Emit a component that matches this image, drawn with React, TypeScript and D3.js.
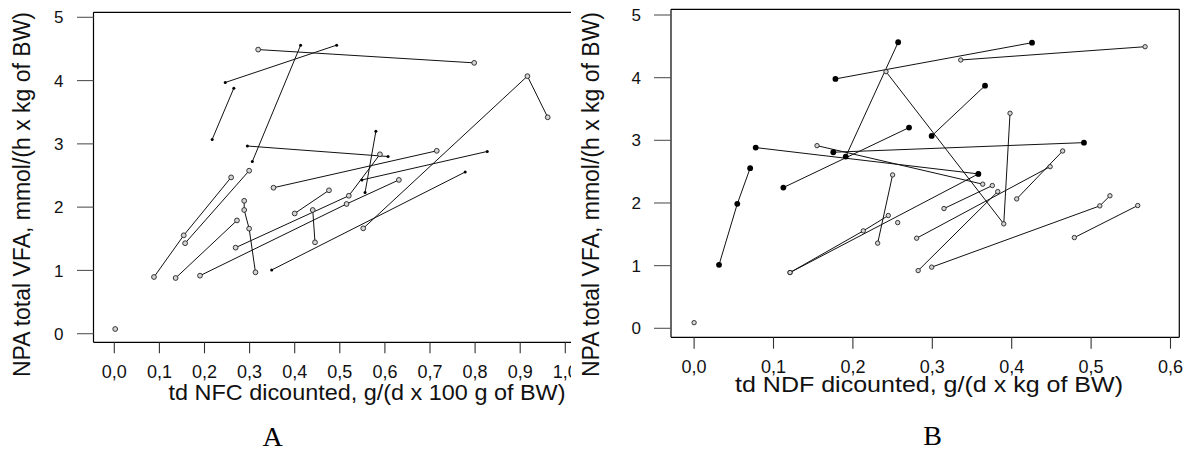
import React from "react";
import * as d3 from "d3";

// ---------- Panel A: td NFC discounted ----------
const aTicksX = [0, 0.1, 0.2, 0.3, 0.4, 0.5, 0.6, 0.7, 0.8, 0.9, 1.0];
const yTicks = [0, 1, 2, 3, 4, 5];

const aOpen1 = [[0.319, 4.49], [0.798, 4.28]];
const aOpen2 = [[0.088, 0.896], [0.154, 1.555], [0.259, 2.47]];
const aOpen3 = [[0.157, 1.43], [0.299, 2.576]];
const aOpen4 = [[0.136, 0.88], [0.272, 1.79]];
const aOpen5 = [[0.288, 2.1], [0.288, 1.955], [0.299, 1.66], [0.313, 0.97]];
const aOpen6 = [[0.353, 2.307], [0.715, 2.89]];
const aOpen7 = [[0.4, 1.9], [0.476, 2.266]];
const aOpen8 = [[0.44, 1.955], [0.445, 1.444]];
const aOpen9 = [[0.19, 0.917], [0.515, 2.05], [0.631, 2.43]];
const aOpen10 = [[0.269, 1.36], [0.52, 2.18], [0.589, 2.835]];
const aOpen11 = [[0.552, 1.665], [0.916, 4.07], [0.961, 3.42]];
const aOpen12 = [[0.002, 0.074]];

const aDot1 = [[0.246, 3.97], [0.493, 4.56]];
const aDot2 = [[0.217, 3.07], [0.265, 3.88]];
const aDot3 = [[0.413, 4.557], [0.306, 2.72]];
const aDot4 = [[0.295, 2.966], [0.607, 2.8]];
const aDot5 = [[0.58, 3.2], [0.556, 2.23]];
const aDot6 = [[0.549, 2.43], [0.827, 2.88]];
const aDot7 = [[0.349, 1.007], [0.778, 2.555]];

const aOpenSeries = [aOpen1, aOpen2, aOpen3, aOpen4, aOpen5, aOpen6, aOpen7, aOpen8, aOpen9, aOpen10, aOpen11, aOpen12];
const aDotSeries = [aDot1, aDot2, aDot3, aDot4, aDot5, aDot6, aDot7];

// ---------- Panel B: td NDF discounted ----------
const bTicksX = [0, 0.1, 0.2, 0.3, 0.4, 0.5, 0.6];

const bDot1 = [[0.0314, 1.013], [0.0544, 1.986], [0.0706, 2.555]];
const bDot2 = [[0.178, 3.98], [0.4256, 4.558]];
const bDot3 = [[0.257, 4.565], [0.191, 2.74]];
const bDot4 = [[0.1124, 2.246], [0.2707, 3.203]];
const bDot5 = [[0.2992, 3.07], [0.3664, 3.872]];
const bDot6 = [[0.1753, 2.81], [0.491, 2.963]];
const bDot7 = [[0.0776, 2.884], [0.358, 2.464]];

const bOpen1 = [[0.3358, 4.282], [0.568, 4.494]];
const bOpen2 = [[0.2417, 4.096], [0.39, 1.667], [0.3979, 3.432]];
const bOpen3 = [[0.1548, 2.915], [0.3635, 2.3]];
const bOpen4 = [[0.1208, 0.89], [0.2131, 1.555], [0.2446, 1.8]];
const bOpen5 = [[0.1208, 0.89], [0.358, 2.464]];
const bOpen6 = [[0.2312, 1.359], [0.25, 2.448]];
const bOpen7 = [[0.3147, 1.911], [0.3756, 2.278]];
const bOpen8 = [[0.2803, 1.438], [0.4484, 2.58]];
const bOpen9 = [[0.2822, 0.921], [0.3824, 2.182]];
const bOpen10 = [[0.4063, 2.065], [0.4642, 2.83]];
const bOpen11 = [[0.2992, 0.976], [0.511, 1.954], [0.5237, 2.115]];
const bOpen12 = [[0.4789, 1.448], [0.5587, 1.959]];
const bOpen13 = [[0.2564, 1.687]];
const bOpen14 = [[0.0, 0.09]];

const bOpenSeries = [bOpen1, bOpen2, bOpen3, bOpen4, bOpen5, bOpen6, bOpen7, bOpen8, bOpen9, bOpen10, bOpen11, bOpen12, bOpen13, bOpen14];
const bDotSeries = [bDot1, bDot2, bDot3, bDot4, bDot5, bDot6, bDot7];

const SANS = "'Liberation Sans', Arial, Helvetica, sans-serif";
const SERIF = "'Liberation Serif', 'Times New Roman', serif";
const fmt = (v: number) => d3.format(".1f")(v).replace(".", ",");

type PanelProps = {
  box: { l: number; t: number; r: number; b: number };
  xRange: [number, number];
  xDomain: [number, number];
  yRange: [number, number];
  xTicks: number[];
  openSeries: number[][][];
  dotSeries: number[][][];
  openR: number;
  dotR: number;
  xLabelY: number;
  yLabelX: number;
  yTickX0: number;
  xTickLen: number;
  xTitle: string;
  xTitleX: number;
  xTitleY: number;
  xTitleLen: number;
  yTitleX: number;
  clipId?: string;
  drawRight: boolean;
};

function Panel(p: PanelProps) {
  const x = d3.scaleLinear().domain(p.xDomain).range(p.xRange);
  const y = d3.scaleLinear().domain([0, 5]).range(p.yRange);
  const line = d3
    .line<number[]>()
    .x((d) => x(d[0]))
    .y((d) => y(d[1]));
  const { l, t, r, b } = p.box;
  return (
    <g clipPath={p.clipId ? `url(#${p.clipId})` : undefined}>
      {/* box */}
      <line x1={l} x2={r} y1={t} y2={t} stroke="#000" strokeWidth={1.2} />
      <line x1={l} x2={r} y1={b} y2={b} stroke="#000" strokeWidth={1.2} />
      <line x1={l} x2={l} y1={t} y2={b} stroke="#000" strokeWidth={1.2} />
      {p.drawRight && <line x1={r} x2={r} y1={t} y2={b} stroke="#000" strokeWidth={1.2} />}
      {/* x ticks */}
      {p.xTicks.map((v) => (
        <g key={"xt" + v}>
          <line x1={x(v)} x2={x(v)} y1={b} y2={b + p.xTickLen} stroke="#333" strokeWidth={1.1} />
          <text x={x(v)} y={p.xLabelY} textAnchor="middle" fontFamily={SANS} fontSize={18} fill="#111">
            {fmt(v)}
          </text>
        </g>
      ))}
      {/* y ticks */}
      {yTicks.map((v) => (
        <g key={"yt" + v}>
          <line x1={p.yTickX0} x2={l} y1={y(v)} y2={y(v)} stroke="#555" strokeWidth={1.1} />
          <text x={p.yLabelX} y={y(v)} dy="0.36em" textAnchor="middle" fontFamily={SANS} fontSize={17} fill="#111">
            {v}
          </text>
        </g>
      ))}
      {/* titles */}
      <text
        x={p.xTitleX}
        y={p.xTitleY}
        textAnchor="middle"
        fontFamily={SANS}
        fontSize={22}
        textLength={p.xTitleLen}
        lengthAdjust="spacingAndGlyphs"
        fill="#111"
      >
        {p.xTitle}
      </text>
      <text
        transform={`translate(${p.yTitleX},194.5) rotate(-90)`}
        textAnchor="middle"
        fontFamily={SANS}
        fontSize={23}
        textLength={365}
        lengthAdjust="spacingAndGlyphs"
        fill="#111"
      >
        NPA total VFA, mmol/(h x kg of BW)
      </text>
      {/* series lines */}
      {p.openSeries.map((s, i) =>
        s.length > 1 ? <path key={"ol" + i} d={line(s) || ""} fill="none" stroke="#111" strokeWidth={1} /> : null
      )}
      {p.dotSeries.map((s, i) => (
        <path key={"dl" + i} d={line(s) || ""} fill="none" stroke="#111" strokeWidth={1} />
      ))}
      {/* markers */}
      {p.openSeries.map((s, i) =>
        s.map((d, j) => (
          <circle key={`oc${i}-${j}`} cx={x(d[0])} cy={y(d[1])} r={p.openR} fill="#d4d4d4" stroke="#222" strokeWidth={0.9} />
        ))
      )}
      {p.dotSeries.map((s, i) =>
        s.map((d, j) => <circle key={`dc${i}-${j}`} cx={x(d[0])} cy={y(d[1])} r={p.dotR} fill="#000" />)
      )}
    </g>
  );
}

export default function App() {
  return (
    <svg
      width={1192}
      height={452}
      style={{ position: "absolute", left: 0, top: 0, background: "#fff" }}
      xmlns="http://www.w3.org/2000/svg"
    >
      <defs>
        <clipPath id="clipA">
          <rect x={0} y={0} width={571} height={452} />
        </clipPath>
      </defs>
      <rect x={0} y={0} width={1192} height={452} fill="#fff" />
      <Panel
        box={{ l: 93.5, t: 12.3, r: 580, b: 342.3 }}
        xDomain={[0, 1]}
        xRange={[114.3, 565.3]}
        yRange={[333.7, 17.3]}
        xTicks={aTicksX}
        openSeries={aOpenSeries}
        dotSeries={aDotSeries}
        openR={2.4}
        dotR={1.5}
        xLabelY={378}
        yLabelX={58.8}
        yTickX0={77}
        xTickLen={11}
        xTitle="td NFC dicounted, g/(d x 100 g of BW)"
        xTitleX={367}
        xTitleY={400}
        xTitleLen={397}
        yTitleX={29.5}
        clipId="clipA"
        drawRight={false}
      />
      <Panel
        box={{ l: 671, t: 9.3, r: 1179.3, b: 337.3 }}
        xDomain={[0, 0.6]}
        xRange={[694.1, 1170.5]}
        yRange={[328.3, 15]}
        xTicks={bTicksX}
        openSeries={bOpenSeries}
        dotSeries={bDotSeries}
        openR={2.2}
        dotR={2.9}
        xLabelY={373}
        yLabelX={636.2}
        yTickX0={654}
        xTickLen={11.4}
        xTitle="td NDF dicounted, g/(d x kg of BW)"
        xTitleX={929}
        xTitleY={391.7}
        xTitleLen={388}
        yTitleX={599}
        drawRight={true}
      />
      <text x={272.7} y={446} textAnchor="middle" fontFamily={SERIF} fontSize={28} fill="#000">
        A
      </text>
      <text x={932.5} y={445} textAnchor="middle" fontFamily={SERIF} fontSize={28} fill="#000">
        B
      </text>
    </svg>
  );
}
